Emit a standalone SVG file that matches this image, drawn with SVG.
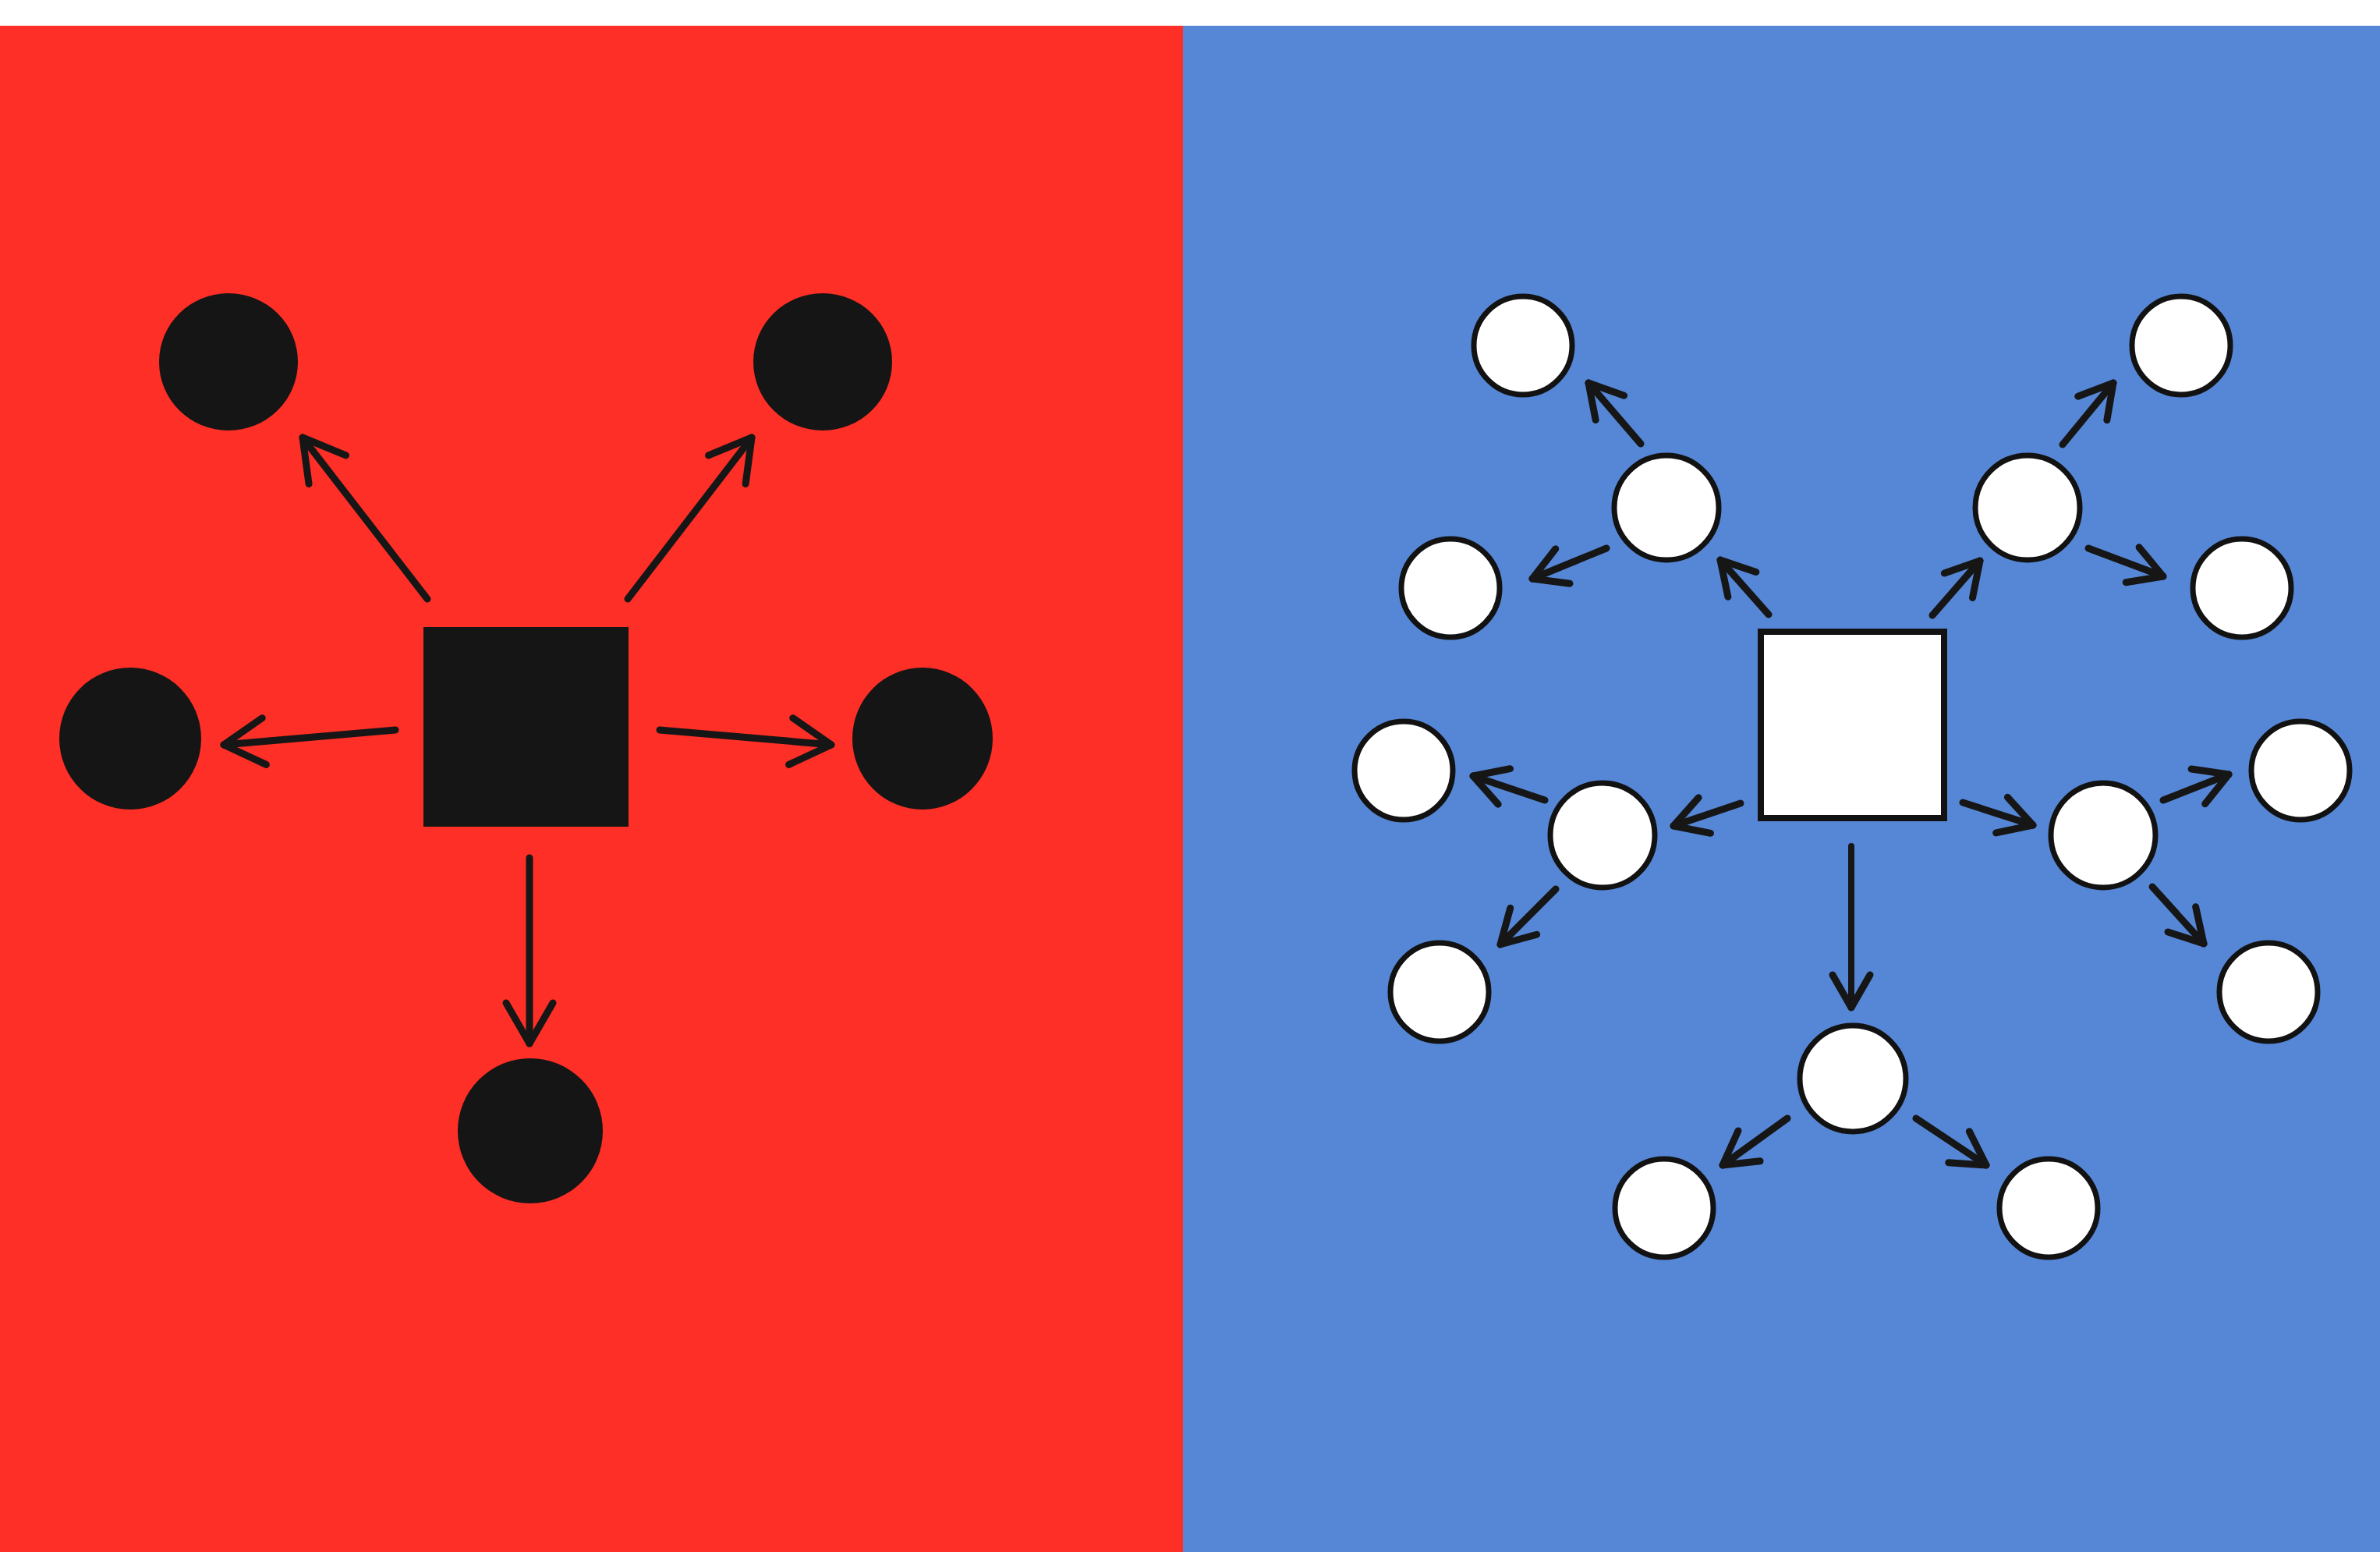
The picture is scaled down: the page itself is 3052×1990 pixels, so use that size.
<svg xmlns="http://www.w3.org/2000/svg" width="3052" height="1990" viewBox="0 0 3052 1990">
  <style>
    .edge { fill: none; stroke: #161616; stroke-width: 9; stroke-linecap: round; }
    .edge-b { fill: none; stroke: #161616; stroke-width: 9; stroke-linecap: round; }
    .dark { fill: #151515; }
    .light { fill: #FFFFFF; stroke: #121212; stroke-width: 7; }
    .lsq { fill: #FFFFFF; stroke: #121212; stroke-width: 8; }
  </style>
  <defs>
    <marker id="arL" markerUnits="userSpaceOnUse" markerWidth="100" markerHeight="100" viewBox="-70 -50 100 100" refX="0" refY="0" orient="auto" overflow="visible">
      <path d="M-52,-30 L0,0 L-52,30" fill="none" stroke="#161616" stroke-width="9" stroke-linecap="round" stroke-linejoin="round"/>
    </marker>
    <marker id="arB" markerUnits="userSpaceOnUse" markerWidth="100" markerHeight="100" viewBox="-70 -50 100 100" refX="0" refY="0" orient="auto" overflow="visible">
      <path d="M-42,-24 L0,0 L-42,24" fill="none" stroke="#161616" stroke-width="9" stroke-linecap="round" stroke-linejoin="round"/>
    </marker>
  </defs>
  <rect x="0" y="0" width="3052" height="1990" fill="#FFFFFF"/>
  <rect id="panel-red" x="0" y="33" width="1517" height="1957" fill="#FD2F26"/>
  <rect id="panel-blue" x="1517" y="33" width="1535" height="1957" fill="#5687D6"/>

  <g id="connectors">
    <g id="connectors-red">
      <line class="edge" x1="548" y1="768" x2="388" y2="561" marker-end="url(#arL)"/>
      <line class="edge" x1="805" y1="768" x2="964" y2="561" marker-end="url(#arL)"/>
      <line class="edge" x1="507" y1="936" x2="287" y2="955" marker-end="url(#arL)"/>
      <line class="edge" x1="846" y1="936" x2="1066" y2="955" marker-end="url(#arL)"/>
      <line class="edge" x1="679" y1="1100" x2="679" y2="1338" marker-end="url(#arL)"/>
    </g>
    <g id="connectors-blue">
      <line class="edge-b" x1="2268" y1="788" x2="2206" y2="718" marker-end="url(#arB)"/>
      <line class="edge-b" x1="2104" y1="569" x2="2037" y2="491" marker-end="url(#arB)"/>
      <line class="edge-b" x1="2060" y1="703" x2="1965" y2="742" marker-end="url(#arB)"/>
      <line class="edge-b" x1="2478" y1="789" x2="2539" y2="719" marker-end="url(#arB)"/>
      <line class="edge-b" x1="2645" y1="570" x2="2710" y2="491" marker-end="url(#arB)"/>
      <line class="edge-b" x1="2678" y1="703" x2="2774" y2="739" marker-end="url(#arB)"/>
      <line class="edge-b" x1="2232" y1="1030" x2="2146" y2="1059" marker-end="url(#arB)"/>
      <line class="edge-b" x1="1981" y1="1026" x2="1889" y2="995" marker-end="url(#arB)"/>
      <line class="edge-b" x1="1995" y1="1140" x2="1924" y2="1211" marker-end="url(#arB)"/>
      <line class="edge-b" x1="2517" y1="1029" x2="2607" y2="1058" marker-end="url(#arB)"/>
      <line class="edge-b" x1="2774" y1="1026" x2="2858" y2="993" marker-end="url(#arB)"/>
      <line class="edge-b" x1="2760" y1="1137" x2="2826" y2="1210" marker-end="url(#arB)"/>
      <line class="edge-b" x1="2374" y1="1085" x2="2374" y2="1292" marker-end="url(#arB)" style="stroke-width:8"/>
      <line class="edge-b" x1="2292" y1="1434" x2="2209" y2="1494" marker-end="url(#arB)"/>
      <line class="edge-b" x1="2457" y1="1434" x2="2547" y2="1494" marker-end="url(#arB)"/>
    </g>
  </g>

  <g id="red-square"><rect class="dark" x="543" y="804" width="263" height="256"/></g>
  <g id="red-n-topleft"><ellipse class="dark" cx="293" cy="464" rx="89" ry="88"/></g>
  <g id="red-n-topright"><ellipse class="dark" cx="1055" cy="464" rx="89" ry="88"/></g>
  <g id="red-n-left"><ellipse class="dark" cx="167" cy="947" rx="91" ry="91"/></g>
  <g id="red-n-right"><ellipse class="dark" cx="1183" cy="947" rx="90" ry="91"/></g>
  <g id="red-n-bottom"><ellipse class="dark" cx="680" cy="1450" rx="93" ry="93"/></g>

  <g id="blue-square"><rect class="lsq" x="2258" y="810" width="235" height="239"/></g>
  <g id="blue-c1"><circle class="light" cx="2137" cy="651" r="67"/></g>
  <g id="blue-c2"><circle class="light" cx="2600" cy="651" r="67"/></g>
  <g id="blue-c3"><circle class="light" cx="2055" cy="1071" r="67"/></g>
  <g id="blue-c4"><circle class="light" cx="2697" cy="1071" r="67"/></g>
  <g id="blue-c5"><circle class="light" cx="2376" cy="1383" r="68"/></g>
  <g id="blue-l1"><circle class="light" cx="1953" cy="443" r="63"/></g>
  <g id="blue-l2"><circle class="light" cx="1860" cy="754" r="63"/></g>
  <g id="blue-l3"><circle class="light" cx="2797" cy="443" r="63"/></g>
  <g id="blue-l4"><circle class="light" cx="2875" cy="754" r="63"/></g>
  <g id="blue-l5"><circle class="light" cx="1800" cy="988" r="63"/></g>
  <g id="blue-l6"><circle class="light" cx="1846" cy="1272" r="63"/></g>
  <g id="blue-l7"><circle class="light" cx="2950" cy="988" r="63"/></g>
  <g id="blue-l8"><circle class="light" cx="2909" cy="1272" r="63"/></g>
  <g id="blue-l9"><circle class="light" cx="2134" cy="1549" r="63"/></g>
  <g id="blue-l10"><circle class="light" cx="2627" cy="1549" r="63"/></g>
</svg>
